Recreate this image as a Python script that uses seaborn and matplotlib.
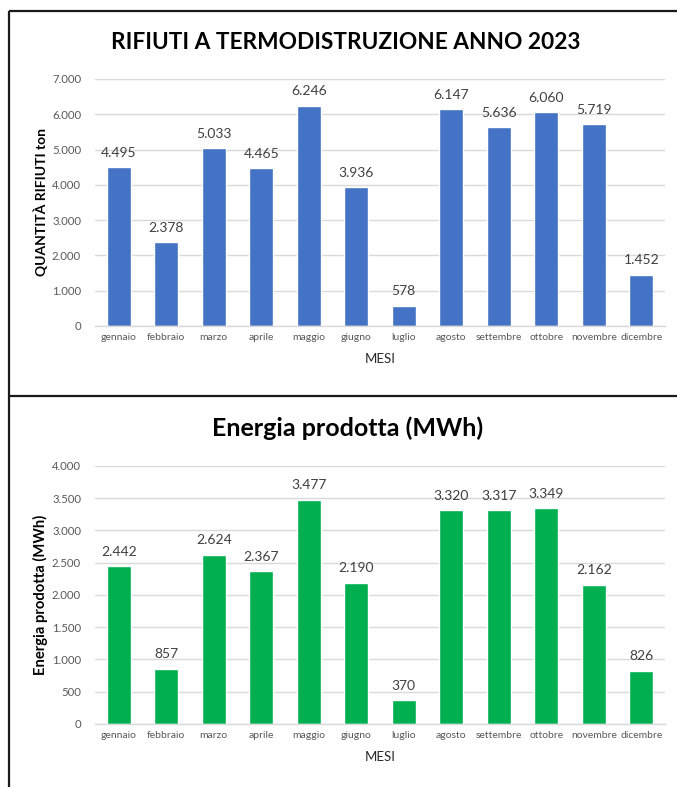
import matplotlib
matplotlib.use("Agg")
import matplotlib.pyplot as plt
from matplotlib.lines import Line2D
from matplotlib.ticker import FuncFormatter
import seaborn as sns
import pandas as pd

mesi = ["gennaio", "febbraio", "marzo", "aprile", "maggio", "giugno",
        "luglio", "agosto", "settembre", "ottobre", "novembre", "dicembre"]
rifiuti_ton = [4495, 2378, 5033, 4465, 6246, 3936, 578, 6147, 5636, 6060, 5719, 1452]
energia_mwh = [2442, 857, 2624, 2367, 3477, 2190, 370, 3320, 3317, 3349, 2162, 826]

sns.set_theme(style="white")
plt.rcParams["font.family"] = ["Lato", "DejaVu Sans"]

TICK_COLOR = "#595959"
GRID_COLOR = "#D9D9D9"
LABEL_COLOR = "#404040"


def it_thousands(v, _pos=None):
    return f"{int(round(v)):,}".replace(",", ".")


fig = plt.figure(figsize=(6.77, 7.87), dpi=100)

ax_top = fig.add_axes([0.1403, 0.5858, 0.842, 0.3139])
ax_bot = fig.add_axes([0.1403, 0.0801, 0.842, 0.3278])

panels = [
    (ax_top, rifiuti_ton, "#4472C4", 7000, 1000, "QUANTITÀ RIFIUTI ton", 10),
    (ax_bot, energia_mwh, "#00B050", 4000, 500, "Energia prodotta (MWh)", 10.6),
]

for ax, values, color, ymax, step, ylabel, ylsize in panels:
    df = pd.DataFrame({"mese": mesi, "valore": values})
    sns.barplot(data=df, x="mese", y="valore", color=color, saturation=1,
                width=0.5, ax=ax, errorbar=None)
    ax.set_ylim(0, ymax)
    ax.set_xlim(-0.5, len(mesi) - 0.5)
    ax.set_yticks(range(0, ymax + 1, step))
    ax.yaxis.set_major_formatter(FuncFormatter(it_thousands))
    ax.yaxis.grid(True, color=GRID_COLOR, linewidth=1)
    ax.set_axisbelow(True)
    for side in ("top", "right", "left"):
        ax.spines[side].set_visible(False)
    ax.spines["bottom"].set_color(GRID_COLOR)
    ax.spines["bottom"].set_linewidth(1)
    ax.tick_params(axis="both", length=0, colors=TICK_COLOR, labelsize=8.2)
    ax.tick_params(axis="x", labelsize=7.5, pad=5)
    ax.tick_params(axis="y", pad=10)
    ax.set_xlabel("MESI", fontsize=9.5, color="#262626", labelpad=8)
    ax.set_ylabel(ylabel, fontsize=ylsize, fontweight="bold", color="#000000",
                  labelpad=3)
    for patch, v in zip(ax.patches, values):
        ax.annotate(it_thousands(v),
                    (patch.get_x() + patch.get_width() / 2, patch.get_height()),
                    xytext=(0, 6), textcoords="offset points",
                    ha="center", va="bottom", fontsize=10, color=LABEL_COLOR)

fig.text(0.511, 0.9466, "RIFIUTI A TERMODISTRUZIONE ANNO 2023",
         ha="center", va="center", fontsize=16.3, fontweight="bold", color="#000000")
fig.text(0.514, 0.456, "Energia prodotta (MWh)",
         ha="center", va="center", fontsize=18, fontweight="bold", color="#000000")

# panel frames
frame = dict(color="#1a1a1a", linewidth=1.6, solid_capstyle="butt")
x_left = 8.5 / 677
fig.add_artist(Line2D([x_left, 1.0], [1 - 11 / 787] * 2, transform=fig.transFigure, **frame))
fig.add_artist(Line2D([x_left, 1.0], [1 - 396 / 787] * 2, transform=fig.transFigure, **frame))
fig.add_artist(Line2D([x_left, x_left], [0.0, 1 - 11 / 787], transform=fig.transFigure, **frame))

fig.savefig("out.png", dpi=100, facecolor="white")
